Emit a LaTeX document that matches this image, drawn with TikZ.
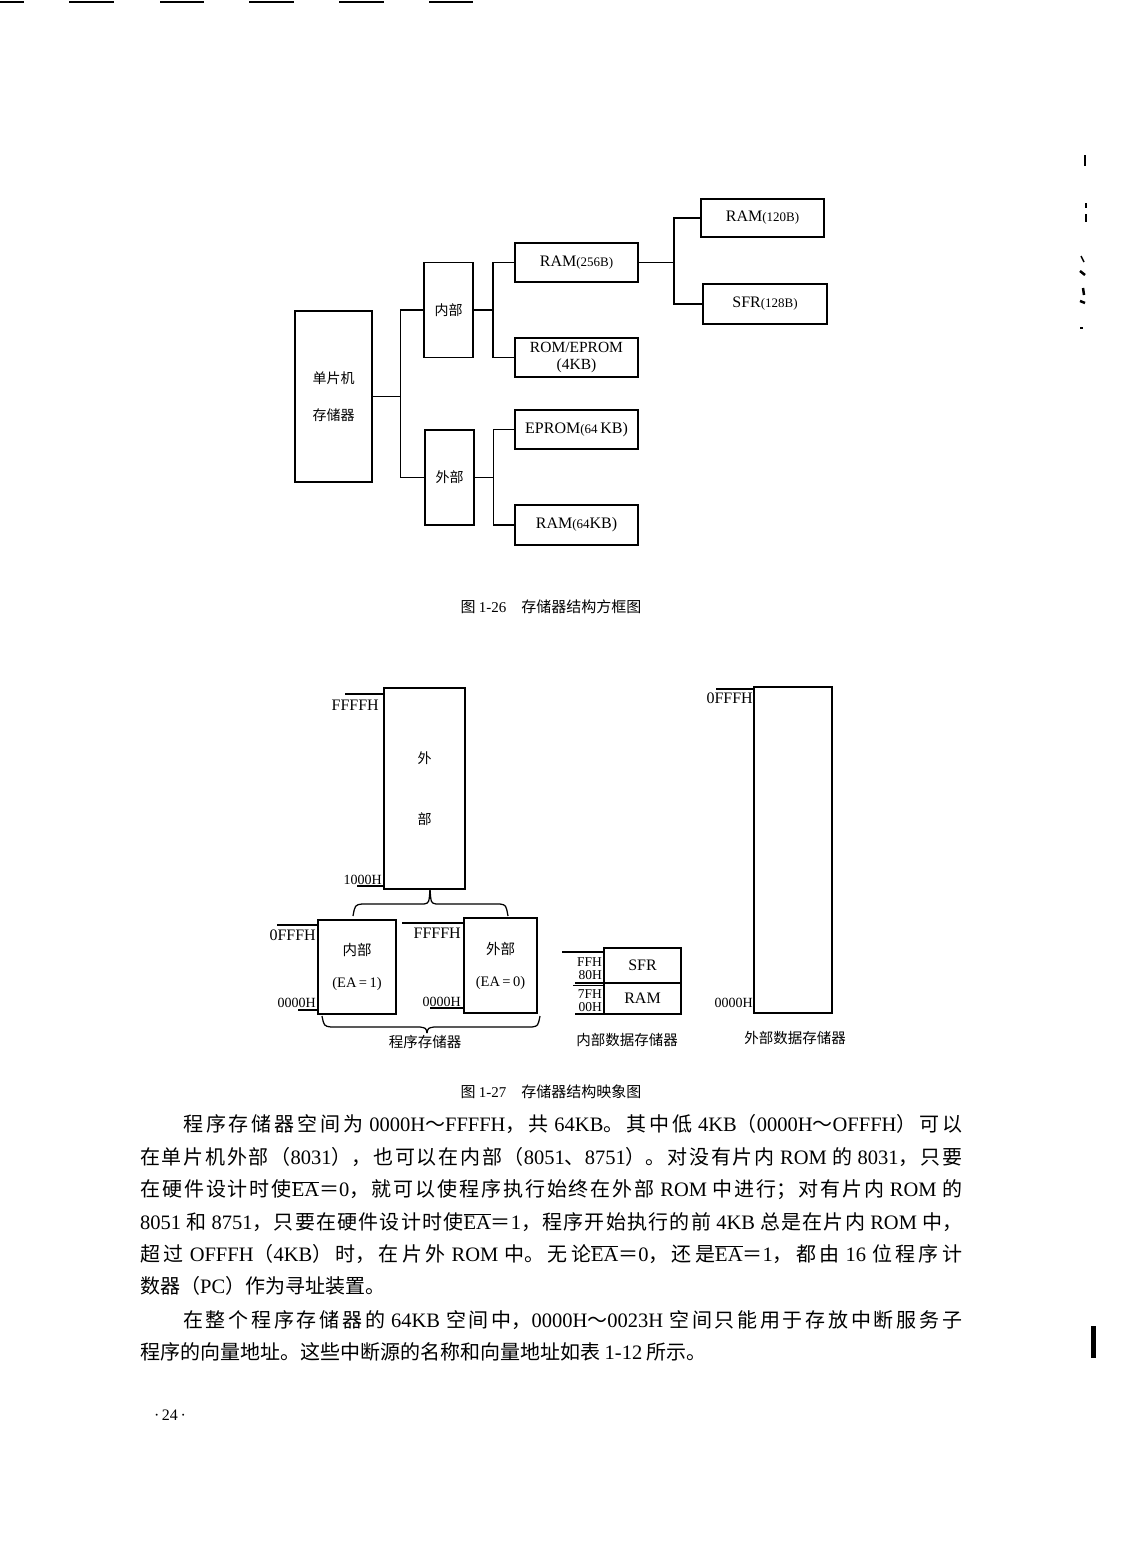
\documentclass[tikz,border=0pt]{standalone}
\usepackage{fontspec}
\setmainfont{Liberation Serif}
\newfontfamily\cjk{Noto Sans CJK SC}
\XeTeXlinebreaklocale "zh"
\XeTeXlinebreakskip=0pt plus 4pt minus 1pt
\newcommand\lat[1]{{\rmfamily\fontsize{20.5}{24}\selectfont #1}}
\newcommand\jline[2]{\parbox{#1}{\cjk\fontsize{20}{24}\selectfont\parfillskip=0pt\relax\noindent #2}}
\newcommand\ovl[1]{$\overline{\hbox{#1}}$}
\newcommand\sm[1]{{\fontsize{13}{15}\selectfont #1}}
\begin{document}
\begin{tikzpicture}[x=1pt,y=-1pt,
  bx/.style={draw, line width=1.9pt, inner sep=0pt, align=center},
  ln/.style={line width=1.25pt},
  tl/.style={line width=1.1pt},
  cj/.style={font=\cjk\fontsize{14}{16}\selectfont},
  cjb/.style={font=\cjk\fontsize{14.5}{16}\selectfont},
  lb/.style={font=\fontsize{16}{18}\selectfont},
  addr/.style={inner sep=0pt, font=\fontsize{16}{16}\selectfont},
  taddr/.style={inner sep=0pt, font=\fontsize{13.5}{14}\selectfont},
  saddr/.style={inner sep=0pt, font=\fontsize{14}{14}\selectfont},
]
\fill[white] (0,0) rectangle (1122,1568);
\useasboundingbox (0,0) rectangle (1122,1568);

% scan marks
\foreach \a/\b in {0/24,69/114,160/204,249/294,339/384,429/473}
  \draw[line width=2pt] (\a,2) -- (\b,2);
\draw[line width=1.5pt] (1085,155) -- (1085,166);
\draw[line width=1.2pt] (1086,203) -- (1086,208);
\draw[line width=1.2pt] (1086,214) -- (1086,222);
\draw[line width=1.5pt] (1081,256) -- (1084,262);
\draw[line width=2.5pt] (1080,271) -- (1085,275);
\draw[line width=2.5pt] (1083,288) -- (1084,295);
\draw[line width=2.5pt] (1080,301) -- (1085,303);
\draw[line width=1.5pt] (1080,328) -- (1083,328);
\draw[line width=5pt] (1093,1326) -- (1093,1358);

% ---------- Fig 1-26 ----------
\node[bx, minimum width=77pt, minimum height=171pt, font=\cjk\fontsize{14}{37}\selectfont] (root) at (333.5,396.5) {单片机\\存储器};
\node[bx, minimum width=49pt, minimum height=95pt, cj] (nei) at (448.5,310) {内部};
\node[bx, minimum width=49pt, minimum height=95pt, cj] (wai) at (449.5,477.5) {外部};
\node[bx, minimum width=123pt, minimum height=39pt, lb] (ram256) at (576.5,262.5) {RAM\sm{(256B)}};
\node[bx, minimum width=123pt, minimum height=39pt, font=\fontsize{15.5}{17}\selectfont] (rom4) at (576.5,357.5) {ROM/EPROM\\(4KB)};
\node[bx, minimum width=123pt, minimum height=39pt, lb] (eprom64) at (576.5,429.5) {EPROM\sm{(64}\,KB)};
\node[bx, minimum width=123pt, minimum height=40pt, lb] (ram64) at (576.5,525) {RAM\sm{(64}KB)};
\node[bx, minimum width=123pt, minimum height=38pt, lb] (ram120) at (762.5,218) {RAM\sm{(120B)}};
\node[bx, minimum width=124pt, minimum height=40pt, lb] (sfr128) at (765,304) {SFR\sm{(128B)}};

\draw[ln] (root.east) -- ++(27.5,0) coordinate (j1);
\draw[ln] (nei.west) -| (j1) |- (wai.west);
\draw[ln] (nei.east) -- ++(19,0) coordinate (j2);
\draw[ln] (ram256.west) -| (j2) |- (rom4.west);
\draw[ln] (wai.east) -- ++(18.5,0) coordinate (j3);
\draw[ln] (eprom64.west) -| (j3) |- (ram64.west);
\draw[ln] (ram256.east) -- ++(35,0) coordinate (j4);
\draw[ln] (ram120.west) -| (j4) |- (sfr128.west);

\node[font=\cjk\fontsize{15}{16}\selectfont] (cap1) at (551,607) {图 {\rmfamily 1-26}\hspace{1em}存储器结构方框图};

% ---------- Fig 1-27 ----------
\node[bx, line width=1.7pt, minimum width=81pt, minimum height=201pt, font=\cjk\fontsize{14}{61}\selectfont] (big) at (424.5,788.5) {外\\部};
\node[bx, line width=1.7pt, minimum width=78pt, minimum height=94pt, font=\cjk\fontsize{14.5}{32}\selectfont] (nb) at (357,967) {内部\\{\rmfamily(EA\,=\,1)}};
\node[bx, line width=1.7pt, minimum width=73pt, minimum height=95pt, font=\cjk\fontsize{14.5}{32}\selectfont] (wb) at (500.5,965.5) {外部\\{\rmfamily(EA\,=\,0)}};
\node[bx, line width=1.7pt, minimum width=77pt, minimum height=35pt, lb] (sfr) at (642.5,965.5) {SFR};
\node[bx, line width=1.7pt, minimum width=77pt, minimum height=31pt, lb] (ram) at (642.5,998.5) {RAM};
\node[bx, line width=1.7pt, minimum width=78pt, minimum height=326pt] (ext) at (793,850) {};

% address labels
\node[addr, anchor=east] (a1) at (379,705) {FFFFH};
\draw[tl] (345,694) -- (384,694);
\node[saddr, anchor=east] (a2) at (382,880) {1000H};
\draw[tl] (357,886) -- (384,886);
\node[addr, anchor=east] (a3) at (316,935) {0FFFH};
\draw[tl] (277,925) -- (318,925);
\node[saddr, anchor=east] (a4) at (316,1003) {0000H};
\draw[tl] (298,1010) -- (318,1010);
\node[addr, anchor=east] (a5) at (461,933) {FFFFH};
\draw[tl] (402,923) -- (464,923);
\node[saddr, anchor=east] (a6) at (461,1002) {0000H};
\draw[tl] (430,1008) -- (464,1008);
\node[taddr, anchor=east] (a7) at (602,962) {FFH};
\draw[tl] (562,952) -- (604,952);
\node[taddr, anchor=east] (a8) at (602,975) {80H};
\draw[tl] (575,983) -- (604,983);
\node[taddr, anchor=east] (a9) at (602,994) {7FH};
\draw[tl] (573,985.5) -- (604,985.5);
\node[taddr, anchor=east] (a10) at (602,1007) {00H};
\draw[tl] (575,1014) -- (604,1014);
\node[addr, anchor=east] (a11) at (753,698) {0FFFH};
\draw[tl] (716,689) -- (754,689);
\node[saddr, anchor=east] (a12) at (753,1003) {0000H};

% braces
\draw[ln] (353,916) .. controls (355,905) .. (362,904) -- (424,904) .. controls (429,903) .. (430,889.5);
\draw[ln] (430,889.5) .. controls (431,903) .. (436,904) -- (500,904) .. controls (506,905) .. (508,916);
\draw[ln] (322,1016) .. controls (324,1026) .. (331,1027) -- (420,1027) .. controls (426,1028) .. (427,1033);
\draw[ln] (427,1033) .. controls (428,1028) .. (434,1027) -- (532,1027) .. controls (538,1026) .. (540,1016);

\node[cjb] (g1) at (425,1042) {程序存储器};
\node[cjb] (g2) at (627,1040) {内部数据存储器};
\node[cjb] (g3) at (795,1038) {外部数据存储器};

\node[font=\cjk\fontsize{15}{16}\selectfont] (cap2) at (551,1092) {图 {\rmfamily 1-27}\hspace{1em}存储器结构映象图};

% ---------- body text ----------
\node[anchor=west, inner sep=0pt] (t1) at (183,1124) {\jline{779pt}{程序存储器空间为 \lat{0000H}～\lat{FFFFH}，共 \lat{64KB}。其中低 \lat{4KB}（\lat{0000H}～\lat{OFFFH}）可以}};
\node[anchor=west, inner sep=0pt] (t2) at (140,1157) {\jline{822pt}{在单片机外部（\lat{8031}），也可以在内部（\lat{8051}、\lat{8751}）。对没有片内 \lat{ROM} 的 \lat{8031}，只要}};
\node[anchor=west, inner sep=0pt] (t3) at (140,1190) {\jline{822pt}{在硬件设计时使\lat{\ovl{EA}}＝\lat{0}，就可以使程序执行始终在外部 \lat{ROM} 中进行；对有片内 \lat{ROM} 的}};
\node[anchor=west, inner sep=0pt] (t4) at (140,1222) {\jline{822pt}{\lat{8051} 和 \lat{8751}，只要在硬件设计时使\lat{\ovl{EA}}＝\lat{1}，程序开始执行的前 \lat{4KB} 总是在片内 \lat{ROM} 中，}};
\node[anchor=west, inner sep=0pt] (t5) at (140,1254) {\jline{822pt}{超过 \lat{OFFFH}（\lat{4KB}）时，在片外 \lat{ROM} 中。无论\lat{\ovl{EA}}＝\lat{0}，还是\lat{\ovl{EA}}＝\lat{1}，都由 \lat{16} 位程序计}};
\node[anchor=west, inner sep=0pt, font=\cjk\fontsize{20}{24}\selectfont] (t6) at (140,1286) {数器（\lat{PC}）作为寻址装置。};
\node[anchor=west, inner sep=0pt] (t7) at (183,1320) {\jline{779pt}{在整个程序存储器的 \lat{64KB} 空间中，\lat{0000H}～\lat{0023H} 空间只能用于存放中断服务子}};
\node[anchor=west, inner sep=0pt, font=\cjk\fontsize{20}{24}\selectfont] (t8) at (140,1352) {程序的向量地址。这些中断源的名称和向量地址如表 \lat{1-12} 所示。};

\node[font=\fontsize{16}{18}\selectfont] (pg) at (170,1415) {·\,24\,·};
\end{tikzpicture}
\end{document}
